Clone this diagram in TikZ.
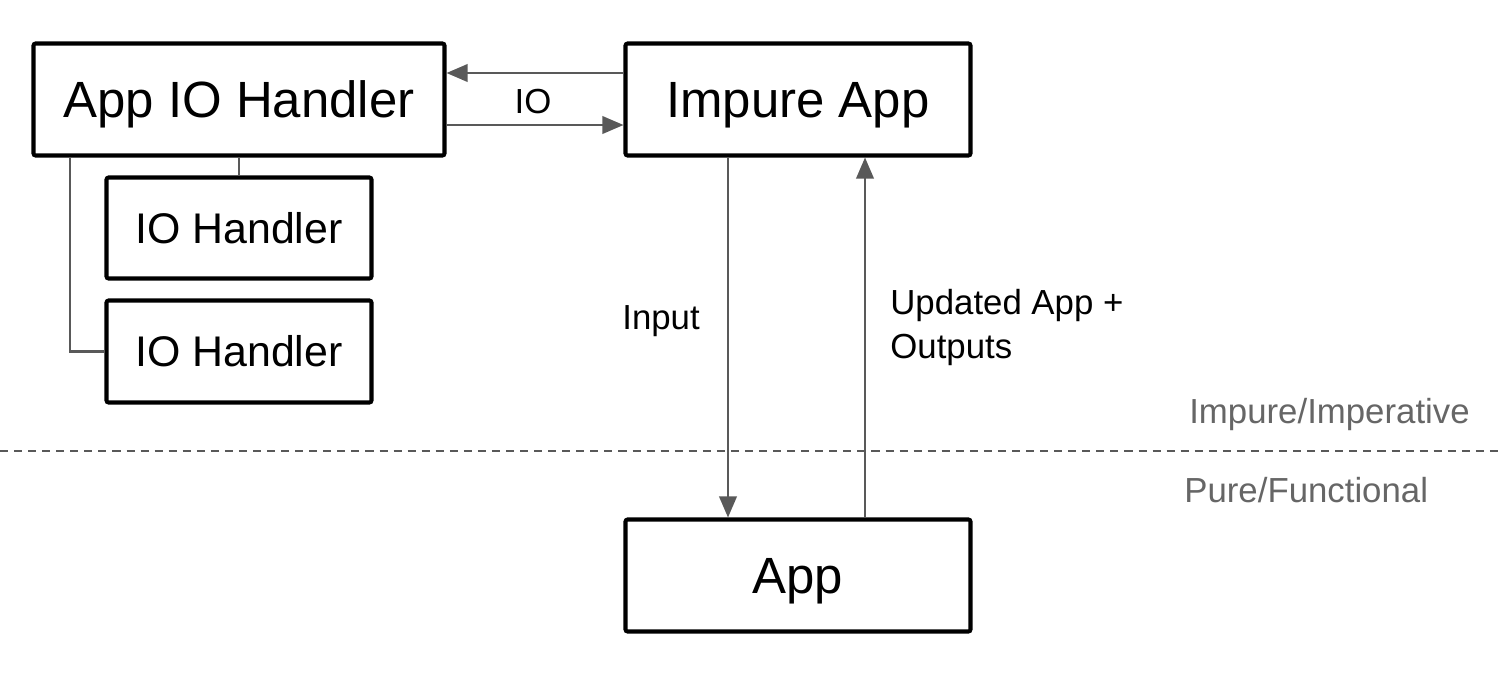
\documentclass[tikz,border=0pt]{standalone}
\usepackage{fontspec}
\setmainfont{Liberation Sans}
\usetikzlibrary{arrows.meta,calc}
\definecolor{conn}{HTML}{595959}
\definecolor{zone}{HTML}{666666}
\tikzset{
  box/.style={draw=black, line width=2.3pt, rounded corners=1.2pt, fill=white, inner sep=0pt, align=center, text depth=0pt},
  bigbox/.style={box, font=\fontsize{29}{34}\selectfont, text height=20.9pt},
  smallbox/.style={box, font=\fontsize{24.4}{29}\selectfont, text height=17.6pt},
  conline/.style={draw=conn, line width=1.15pt},
  arr/.style={conline, -{Triangle[length=12pt,width=10pt]}},
  lbl/.style={font=\fontsize{19.8}{25.5}\selectfont, inner sep=0pt, align=left},
  zonelbl/.style={lbl, text=zone}
}
\begin{document}
\begin{tikzpicture}[x=0.02cm,y=-0.02cm]
\useasboundingbox (0,0) rectangle (1498,680);
% nodes
\node[bigbox, minimum width=411*0.02cm, minimum height=112*0.02cm] (aioh) at (239,99.5) {App IO Handler};
\node[bigbox, minimum width=345*0.02cm, minimum height=112*0.02cm] (impure) at (798,99.5) {Impure App};
\node[smallbox, minimum width=265*0.02cm, minimum height=101*0.02cm] (ioh1) at (239,228) {IO Handler};
\node[smallbox, minimum width=265*0.02cm, minimum height=102*0.02cm] (ioh2) at (239,351.5) {IO Handler};
\node[bigbox, minimum width=345*0.02cm, minimum height=112*0.02cm] (app) at (798,575.5) {App};
% helper coordinates
\coordinate (yTop) at (0,73);
\coordinate (yBot) at (0,125);
\coordinate (xIn) at (728,0);
\coordinate (xOut) at (865,0);
\coordinate (xL) at (70,0);
% connectors
\draw[arr] (impure.west |- yTop) -- (aioh.east |- yTop);
\draw[arr] (aioh.east |- yBot) -- (impure.west |- yBot);
\node[lbl] (io) at (533,102) {IO};
\draw[conline] (aioh.south) -- (ioh1.north);
\draw[conline] (aioh.south -| xL) |- (ioh2.west);
\draw[arr] (impure.south -| xIn) -- (app.north -| xIn);
\draw[arr] (app.north -| xOut) -- (impure.south -| xOut);
\node[lbl, anchor=west] (inp) at (622,321) {Input};
\node[lbl, anchor=west] (upd) at (890,327.5) {Updated App +\\Outputs};
% zone separator
\coordinate (dl) at (0,451);
\coordinate (dr) at (1498,451);
\draw[draw=conn, line width=1.15pt, dash pattern=on 4.6pt off 3.4pt] (dl) -- (dr);
\node[zonelbl, anchor=east] (imp) at (1470,414) {Impure/Imperative};
\node[zonelbl, anchor=west] (pure) at (1184,490) {Pure/Functional};
\end{tikzpicture}
\end{document}
